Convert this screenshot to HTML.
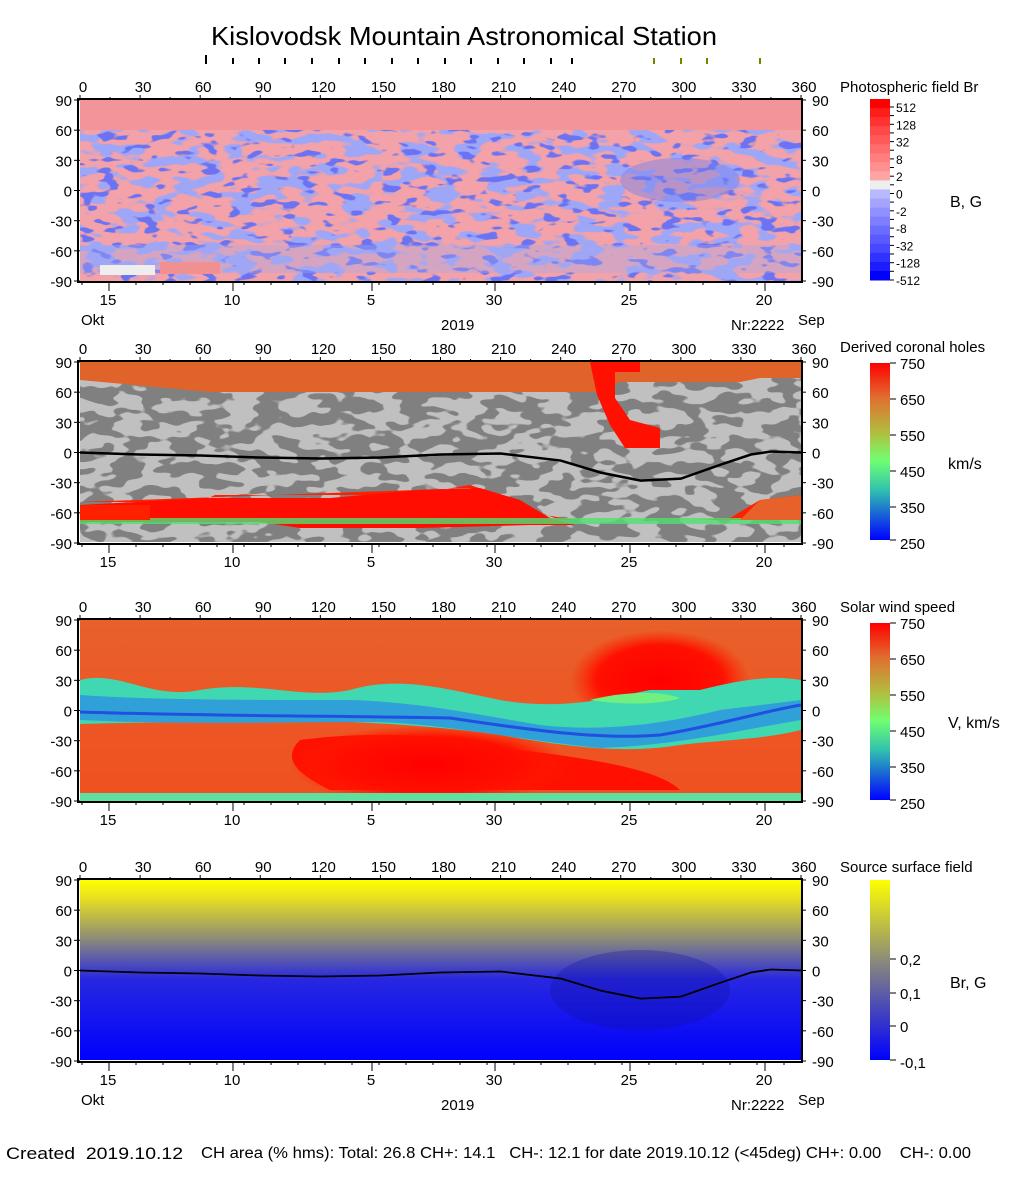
<!DOCTYPE html>
<html><head><meta charset="utf-8"><style>
body{margin:0;background:#fff;}
svg text{font-family:"Liberation Sans",Arial,sans-serif;fill:#000;white-space:pre;}
filter{color-interpolation-filters:sRGB;}
</style></head><body>
<svg id="s" width="1020" height="1172" xmlns="http://www.w3.org/2000/svg">
<defs>
<filter id="nb" x="0" y="0" width="100%" height="100%" color-interpolation-filters="sRGB"><feTurbulence type="fractalNoise" baseFrequency="0.035 0.09" numOctaves="2" seed="3"/><feColorMatrix type="matrix" values="0 0 0 0 0.62  0 0 0 0 0.65  0 0 0 0 0.97  14 0 0 0 -7.3"/></filter>
<filter id="nb2" x="0" y="0" width="100%" height="100%" color-interpolation-filters="sRGB"><feTurbulence type="fractalNoise" baseFrequency="0.05 0.12" numOctaves="2" seed="8"/><feColorMatrix type="matrix" values="0 0 0 0 0.42  0 0 0 0 0.45  0 0 0 0 0.95  14 0 0 0 -8.4"/></filter>
<filter id="ng" x="0" y="0" width="100%" height="100%" color-interpolation-filters="sRGB"><feTurbulence type="fractalNoise" baseFrequency="0.035 0.08" numOctaves="2" seed="5"/><feColorMatrix type="matrix" values="0 0 0 0 0.5  0 0 0 0 0.5  0 0 0 0 0.5  30 0 0 0 -14.5"/></filter>
<linearGradient id="g4" x1="0" y1="0" x2="0" y2="1"><stop offset="0" stop-color="#ffff00"/><stop offset="0.1" stop-color="#e8e020"/><stop offset="0.33" stop-color="#8a8a7a"/><stop offset="0.55" stop-color="#2828e0"/><stop offset="1" stop-color="#0000ff"/></linearGradient>
<linearGradient id="cb4" x1="0" y1="0" x2="0" y2="1"><stop offset="0" stop-color="#ffff00"/><stop offset="0.45" stop-color="#8a8a7a"/><stop offset="1" stop-color="#0000ff"/></linearGradient>
<linearGradient id="cb2" x1="0" y1="0" x2="0" y2="1"><stop offset="0" stop-color="#ff0000"/><stop offset="0.2" stop-color="#e07030"/><stop offset="0.4" stop-color="#b0c040"/><stop offset="0.55" stop-color="#70ff70"/><stop offset="0.72" stop-color="#30c0b0"/><stop offset="1" stop-color="#0000ff"/></linearGradient>
<linearGradient id="p3" x1="0" y1="0" x2="0" y2="1"><stop offset="0" stop-color="#e8602a"/><stop offset="1" stop-color="#f05020"/></linearGradient>
<radialGradient id="rr"><stop offset="0" stop-color="#ff0000"/><stop offset="0.7" stop-color="#ff1000"/><stop offset="1" stop-color="#ff2000" stop-opacity="0"/></radialGradient>
<clipPath id="c1"><rect x="80" y="100" width="721" height="181"/></clipPath>
<clipPath id="c2"><rect x="80" y="362" width="721" height="180"/></clipPath>
<clipPath id="c3"><rect x="80" y="620" width="721" height="182"/></clipPath>
<clipPath id="c4"><rect x="80" y="880" width="721" height="180"/></clipPath>
</defs>
<text x="211" y="45" font-size="26" textLength="506" lengthAdjust="spacingAndGlyphs">Kislovodsk Mountain Astronomical Station</text>

<!-- panel 1 -->
<g clip-path="url(#c1)">
<rect x="80" y="100" width="721" height="181" fill="#f2a2a8"/>
<rect x="80" y="100" width="721" height="30" fill="#f39598"/>
<rect x="80" y="130" width="721" height="151" filter="url(#nb)"/>
<rect x="80" y="130" width="721" height="151" filter="url(#nb2)"/>
<ellipse cx="680" cy="180" rx="60" ry="22" fill="#7080f0" opacity="0.45"/>
<rect x="80" y="245" width="721" height="28" fill="#a0a8f0" opacity="0.35"/>
<rect x="100" y="265" width="55" height="10" fill="#eeeeee"/>
<rect x="160" y="262" width="60" height="12" fill="#f09090"/>
</g>
<!-- panel 2 -->
<g clip-path="url(#c2)">
<rect x="80" y="362" width="721" height="180" fill="#c0c0c0"/>
<rect x="80" y="362" width="721" height="180" filter="url(#ng)"/>
<path d="M80 362H801V378H760L740 382H620L600 392H210L80 380Z" fill="#e0642a"/>
<path d="M590 362H640V372H615V398L630 420L660 428V448H625L610 425L597 395Z" fill="#ff1000"/>
<path d="M80 502H200L215 495H400L440 490L470 485L500 495L545 515L575 520H801V495L760 500L730 518L700 520H560L520 505L470 488Z" fill="#ff2000"/>
<path d="M210 498H330L420 490L480 488L520 500L550 518L575 525H530L420 528H300L260 522H80V505Z" fill="#ff0d00"/>
<rect x="80" y="518" width="721" height="6" fill="#50e070" opacity="0.8"/>
<path d="M80 505H150V520H80Z" fill="#ff2000"/>
<path d="M760 500L801 495V520H740Z" fill="#e8602a"/>
<polyline id="l2" fill="none" stroke="#000" stroke-width="2.5"/>
</g>
<!-- panel 3 -->
<g clip-path="url(#c3)">
<rect x="80" y="620" width="721" height="182" fill="url(#p3)"/>
<ellipse cx="660" cy="680" rx="90" ry="50" fill="url(#rr)"/>
<path d="M300 740C380 730 450 735 520 750C600 760 660 770 680 790H330C300 775 280 760 300 740Z" fill="#ff1000"/>
<ellipse cx="430" cy="765" rx="140" ry="40" fill="url(#rr)"/>
<path d="M80 680C120 670 150 700 200 690C260 680 300 700 350 690C400 675 450 690 500 700C560 710 600 700 650 690L700 690C740 680 770 675 801 680V730C760 740 720 740 680 745C620 755 560 745 500 735C430 725 360 722 300 720C220 722 150 722 80 724Z" fill="#40d8b0"/>
<path d="M80 695C150 700 250 700 350 700C420 702 480 715 540 725C600 732 660 725 720 710L801 700V720C740 730 680 745 600 748C520 740 450 725 380 722C280 722 180 725 80 720Z" fill="#30a0d8"/>
<path d="M80 712C200 716 350 716 450 718C530 730 600 740 660 735C720 725 760 712 801 705" fill="none" stroke="#2050e0" stroke-width="3"/>
<path d="M590 700C620 692 660 690 680 698C660 705 620 705 590 700Z" fill="#70f080"/>
<rect x="80" y="793" width="721" height="9" fill="#60e0a0"/>
</g>
<!-- panel 4 -->
<g clip-path="url(#c4)">
<rect x="80" y="880" width="721" height="180" fill="url(#g4)"/>
<ellipse cx="640" cy="990" rx="90" ry="40" fill="#1010a0" opacity="0.3"/>
<polyline id="l4" fill="none" stroke="#000" stroke-width="1.8"/>
</g>
<g id="axes"></g>

<!-- colorbars -->
<g id="cb1"></g>
<rect x="870" y="363" width="20" height="177" fill="url(#cb2)"/>
<rect x="870" y="623" width="20" height="177" fill="url(#cb2)"/>
<rect x="870" y="880" width="20" height="180" fill="url(#cb4)"/>
<text x="840" y="92" font-size="15">Photospheric field Br</text>
<text x="950" y="207" font-size="16">B, G</text>
<text x="840" y="352" font-size="15">Derived coronal holes</text>
<text x="948" y="469" font-size="16">km/s</text>
<text x="840" y="612" font-size="15">Solar wind speed</text>
<text x="948" y="728" font-size="16">V, km/s</text>
<text x="840" y="872" font-size="15">Source surface field</text>
<text x="950" y="988" font-size="16">Br, G</text>
<g font-size="15">
<text x="900" y="369">750</text><text x="900" y="405">650</text><text x="900" y="441">550</text><text x="900" y="477">450</text><text x="900" y="513">350</text><text x="900" y="549">250</text>
<text x="900" y="629">750</text><text x="900" y="665">650</text><text x="900" y="701">550</text><text x="900" y="737">450</text><text x="900" y="773">350</text><text x="900" y="809">250</text>
<text x="900" y="965">0,2</text><text x="900" y="999">0,1</text><text x="900" y="1032">0</text><text x="900" y="1068">-0,1</text>
</g>
<text x="81" y="325" font-size="15">Okt</text><text x="441" y="330" font-size="15">2019</text><text x="731" y="330" font-size="15">Nr:2222</text><text x="798" y="325" font-size="15">Sep</text>
<text x="81" y="1105" font-size="15">Okt</text><text x="441" y="1110" font-size="15">2019</text><text x="731" y="1110" font-size="15">Nr:2222</text><text x="798" y="1105" font-size="15">Sep</text>
<text x="6" y="1159" font-size="17" xml:space="preserve" textLength="177" lengthAdjust="spacingAndGlyphs">Created  2019.10.12</text>
<text x="201" y="1158" font-size="15.5" xml:space="preserve" textLength="770" lengthAdjust="spacingAndGlyphs">CH area (% hms): Total: 26.8 CH+: 14.1   CH-: 12.1 for date 2019.10.12 (&lt;45deg) CH+: 0.00    CH-: 0.00</text>
</svg>
<script>
const NS="http://www.w3.org/2000/svg",s=document.getElementById('axes');
function el(t,a,txt){const e=document.createElementNS(NS,t);for(const k in a)e.setAttribute(k,a[k]);if(txt!=null)e.textContent=txt;s.appendChild(e);return e;}
const X0=80,W=721,tops=[100,362,620,880],H=181;
const lx=l=>X0+l/360*W;
[206,233,259,285,312,339,365,392,418,445,471,498,524,551,572].forEach((x,i)=>el('rect',{x:x-1,y:i==0?55:58,width:2,height:i==0?9:6,fill:'#000'}));
[654,681,707,760].forEach(x=>el('rect',{x:x-1,y:58,width:2,height:6,fill:'#808000'}));
const days=[[109,'15'],[233,'10'],[372,'5'],[495,'30'],[630,'25'],[765,'20']];
tops.forEach((t,i)=>{
 const b=t+H;
 el('rect',{x:X0-2,y:t-1,width:W+3,height:H+2,fill:'none',stroke:'#000','stroke-width':2});
 for(let l=0;l<=360;l+=15){el('line',{x1:lx(l),x2:lx(l),y1:t-(l%30?3:5),y2:t,stroke:'#000'});}
 for(let l=0;l<=360;l+=30){el('text',{x:lx(l)+3,y:t-8,'font-size':15,'text-anchor':'middle'},l);}
 for(let a=90;a>=-90;a-=30){const y=t+(90-a)/180*H;
  el('line',{x1:X0-6,x2:X0,y1:y,y2:y,stroke:'#000'});el('line',{x1:X0+W,x2:X0+W+5,y1:y,y2:y,stroke:'#000'});
  el('text',{x:X0-8,y:y+6,'font-size':15,'text-anchor':'end'},a);el('text',{x:X0+W+11,y:y+6,'font-size':15},a);}
 for(let x=82;x<801;x+=27){el('line',{x1:x,x2:x,y1:b,y2:b+4,stroke:'#000'});}
 days.forEach(d=>{el('line',{x1:d[0],x2:d[0],y1:b,y2:b+10,stroke:'#000'});el('text',{x:d[0]-1,y:b+24,'font-size':15,'text-anchor':'middle'},d[1]);});
});
const pts=[[0,0],[30,-2],[60,-3],[90,-5],[120,-6],[150,-5],[180,-2],[210,-1],[240,-8],[260,-20],[280,-28],[300,-26],[320,-12],[335,-2],[345,1],[360,0]];
function pl(id,t){document.getElementById(id).setAttribute('points',pts.map(p=>lx(p[0])+','+(t+(90-p[1])/180*H)).join(' '));}
pl('l2',362);pl('l4',880);
const cols=['#ff0000','#ff1c1c','#ff3232','#ff4848','#ff5a5a','#ff6c6c','#ff7e7e','#ff9090','#ffa4a4','#eeeeee','#b8b8ff','#a4a4ff','#9090ff','#7e7eff','#6c6cff','#5a5aff','#4848ff','#3232ff','#1c1cff','#0000ff'];
const cb=document.getElementById('cb1');const hh=181/20;
cols.forEach((c,i)=>{const r=document.createElementNS(NS,'rect');r.setAttribute('x',870);r.setAttribute('y',99+i*hh);r.setAttribute('width',20);r.setAttribute('height',hh+0.5);r.setAttribute('fill',c);cb.appendChild(r);});
const labs=['512','128','32','8','2','0','-2','-8','-32','-128','-512'];
labs.forEach((t,i)=>{const y=107+i*17.3;el('line',{x1:890,x2:894,y1:y,y2:y,stroke:'#000'});el('text',{x:896,y:y+5,'font-size':12},t);if(i<10)el('line',{x1:890,x2:894,y1:y+8.6,y2:y+8.6,stroke:'#000'});});
[363,399,435,471,507,540,623,659,695,731,767,800,959,993,1026,1060].forEach(y=>el('line',{x1:890,x2:896,y1:y,y2:y,stroke:'#000'}));
</script>
</body></html>
